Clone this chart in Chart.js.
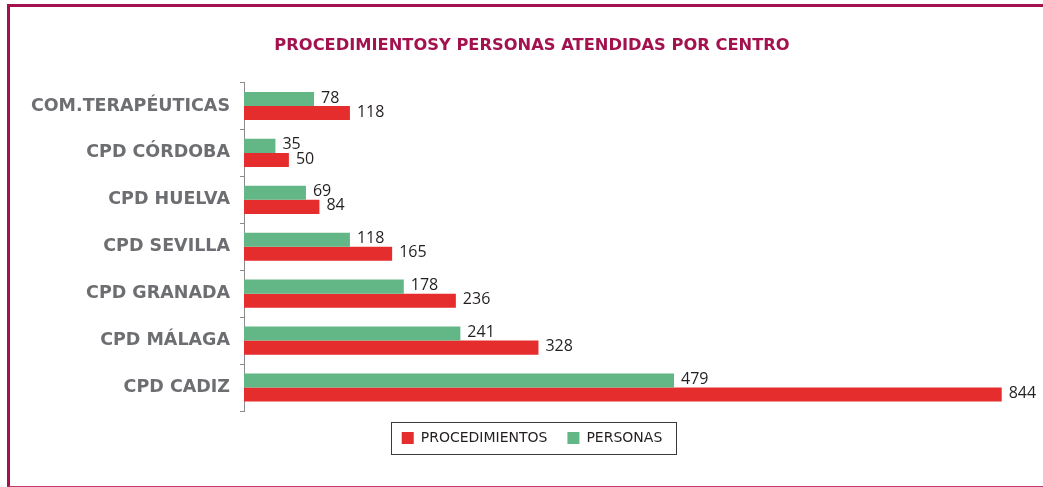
<!DOCTYPE html>
<html>
<head>
<meta charset="utf-8">
<script src="https://cdn.jsdelivr.net/npm/chart.js@4/dist/chart.umd.min.js"></script>
<style>
  html, body { margin: 0; padding: 0; background: #fff; }
  #wrap { position: relative; width: 1043px; height: 487px; overflow: hidden; }
  #frame {
    position: absolute; left: 7px; top: 4px; width: 1100px; height: 483px;
    border-top: 3px solid #a3124f; border-left: 3px solid #a3124f;
    border-bottom: 1px solid #c23a72; box-sizing: border-box;
  }
  canvas { position: absolute; left: 0; top: 0; }
</style>
</head>
<body>
<div id="wrap">
  <div id="frame"></div>
  <canvas id="c" width="1043" height="487"></canvas>
</div>
<script>
// Centres, top to bottom
const centros = ['COM.TERAPÉUTICAS', 'CPD CÓRDOBA', 'CPD HUELVA', 'CPD SEVILLA', 'CPD GRANADA', 'CPD MÁLAGA', 'CPD CADIZ'];
// People attended per centre
const personas = [78, 35, 69, 118, 178, 241, 479];
// Procedures per centre
const procedimientos = [118, 50, 84, 165, 236, 328, 844];

const titulo = 'PROCEDIMIENTOSY PERSONAS ATENDIDAS POR CENTRO';
const ROJO = '#e52d2d';
const VERDE = '#63b685';
const ANCHA = '"DejaVu Sans", Verdana, sans-serif';
const NUMEROS = '"Open Sans", Lato, sans-serif';

// Value labels at the end of each bar
const etiquetas = {
  id: 'etiquetas',
  afterDatasetsDraw(chart) {
    const ctx = chart.ctx;
    ctx.save();
    ctx.font = '16px ' + NUMEROS;
    ctx.fillStyle = '#231f20';
    ctx.textAlign = 'left';
    ctx.textBaseline = 'middle';
    chart.data.datasets.forEach((ds, i) => {
      chart.getDatasetMeta(i).data.forEach((bar, j) => {
        ctx.fillText(String(ds.data[j]), bar.x + 7, bar.y - 1);
      });
    });
    ctx.restore();
  }
};

// Thin frame around the legend items
const marcoLeyenda = {
  id: 'marcoLeyenda',
  afterDraw(chart) {
    const boxes = chart.legend && chart.legend.legendHitBoxes;
    if (!boxes || !boxes.length) return;
    let l = Infinity, r = -Infinity, t = Infinity, b = -Infinity;
    boxes.forEach(h => {
      l = Math.min(l, h.left); r = Math.max(r, h.left + h.width);
      t = Math.min(t, h.top); b = Math.max(b, h.top + h.height);
    });
    const ctx = chart.ctx;
    ctx.save();
    ctx.strokeStyle = '#3a3a3a';
    ctx.lineWidth = 1;
    ctx.strokeRect(Math.round(l - 11) + 0.5, Math.round(t - 9) + 0.5, Math.round(r - l + 24), Math.round(b - t + 18));
    ctx.restore();
  }
};

new Chart(document.getElementById('c'), {
  type: 'bar',
  data: {
    labels: centros,
    datasets: [
      { label: 'PERSONAS', data: personas, backgroundColor: VERDE },
      { label: 'PROCEDIMIENTOS', data: procedimientos, backgroundColor: ROJO }
    ]
  },
  options: {
    indexAxis: 'y',
    responsive: false,
    animation: false,
    layout: { padding: { left: 21, right: 0, top: 0, bottom: 32 } },
    datasets: { bar: { categoryPercentage: 0.6, barPercentage: 1.0 } },
    scales: {
      x: {
        display: false,
        min: 0,
        max: 890
      },
      y: {
        afterFit(scale) { scale.width = 223; },
        border: { display: true, color: '#8c8c8c', width: 1 },
        grid: { drawOnChartArea: false, drawTicks: true, tickLength: 4, color: '#8c8c8c', offset: true },
        ticks: {
          color: '#6d6e71',
          padding: 10,
          font: { family: ANCHA, size: 17.5, weight: 'bold' }
        }
      }
    },
    plugins: {
      title: {
        display: true,
        text: titulo,
        color: '#a3124f',
        font: { family: ANCHA, size: 16.3, weight: 'bold' },
        padding: { top: 36, bottom: 27 }
      },
      legend: {
        display: true,
        position: 'bottom',
        reverse: true,
        labels: {
          color: '#231f20',
          font: { family: ANCHA, size: 14 },
          boxWidth: 12,
          boxHeight: 12,
          padding: 20
        }
      },
      tooltip: { enabled: false }
    }
  },
  plugins: [etiquetas, marcoLeyenda]
});
</script>
</body>
</html>
